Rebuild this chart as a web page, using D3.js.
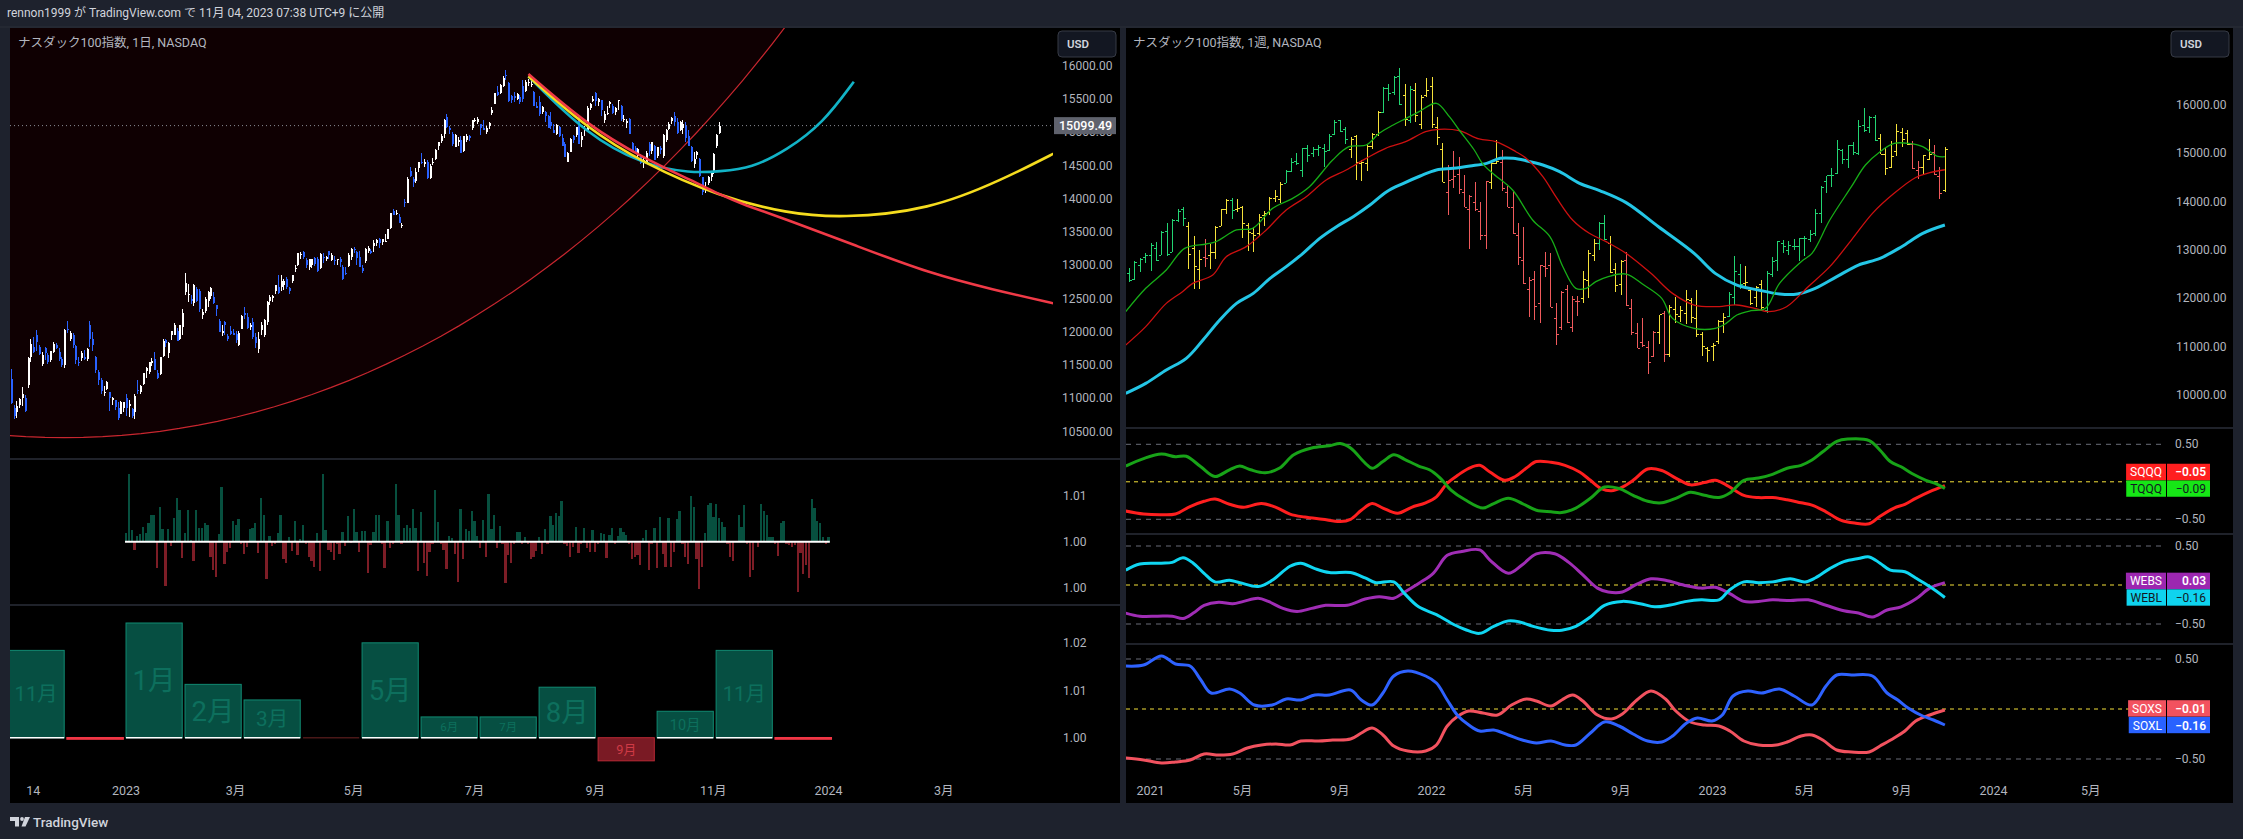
<!DOCTYPE html>
<meta charset="utf-8">
<script src="https://d3js.org/d3.v7.min.js"></script>
<style>
  body { margin: 0; background: #1e222d; }
  svg { display: block; }
</style>
<svg id="chart" width="2243" height="839"></svg>
<script>
// ---------------- left chart: NDX daily (bar 0 = 2022-11-01) ----------------
const headerText = "rennon1999 が TradingView.com で 11月 04, 2023 07:38 UTC+9 に公開";
const leftTitle = "ナスダック100指数, 1日, NASDAQ";
const rightTitle = "ナスダック100指数, 1週, NASDAQ";

// [open, high, low, close]
const dailyOHLC = [
  [11480,11520,11270,11300],[11290,11440,10920,10926],[10850,10900,10690,10730],[10800,10960,10700,10880],
  [10900,11000,10850,10990],[11000,11170,10890,11060],[11000,11050,10800,10810],[11200,11620,11150,11610],
  [11620,11900,11550,11820],[11770,11920,11680,11700],[11960,12030,11720,11850],[11780,11800,11650,11670],
  [11520,11700,11480,11660],[11760,11780,11580,11680],[11650,11680,11520,11550],[11570,11720,11540,11710],
  [11700,11850,11680,11820],[11800,11830,11740,11760],[11700,11760,11560,11590],[11590,11620,11470,11500],
  [11500,12040,11460,12030],[12050,12160,11980,12030],[11900,12020,11860,11990],[11950,11980,11760,11800],
  [11790,11800,11510,11570],[11540,11620,11480,11530],[11610,11720,11560,11690],[11630,11730,11580,11600],
  [11600,11760,11560,11750],[12100,12170,11780,11900],[11900,12000,11720,11810],[11620,11640,11380,11420],
  [11390,11430,11200,11270],[11270,11300,11060,11110],[11090,11180,11030,11100],[11140,11260,11120,11240],
  [11090,11100,10810,11000],[10980,11020,10900,11010],[10970,10980,10820,10870],[10860,10950,10680,10700],
  [10770,10960,10760,10940],[10860,10950,10800,10940],[11010,11060,10740,10860],[10880,10980,10720,10910],
  [10840,10850,10700,10740],[10800,11070,10690,11040],[11120,11270,11070,11110],[11100,11200,11070,11180],
  [11220,11380,11200,11380],[11410,11470,11310,11460],[11390,11550,11370,11540],[11530,11610,11480,11560],
  [11600,11700,11420,11430],[11380,11430,11290,11310],[11370,11630,11350,11620],[11640,11890,11620,11860],
  [11880,11900,11770,11840],[11680,11850,11610,11840],[11950,12020,11880,12010],[11960,12140,11950,12100],
  [12020,12060,11860,11870],[11890,12100,11880,12100],[12080,12350,11950,12290],[12600,12880,12560,12740],
  [12550,12720,12450,12570],[12500,12560,12420,12460],[12430,12720,12390,12700],[12650,12670,12450,12470],
  [12620,12640,12300,12340],[12260,12340,12200,12300],[12320,12520,12280,12500],[12460,12620,12380,12600],
  [12540,12670,12500,12660],[12530,12600,12420,12440],[12400,12410,12240,12340],[12170,12200,12000,12000],
  [11990,12110,11940,12020],[12150,12170,11960,12100],[11940,11970,11860,11900],[12020,12090,11950,11970],
  [11990,12050,11950,11960],[11970,12010,11830,11880],[11800,12020,11790,11990],[12050,12250,12040,12240],
  [12290,12380,12200,12250],[12230,12290,12040,12060],[12070,12130,12030,12110],[12150,12210,11900,11930],
  [11920,11980,11760,11830],[11750,12000,11690,11890],[12030,12150,11960,12110],[11950,12200,11930,12180],
  [12150,12470,12100,12450],[12470,12560,12410,12520],[12510,12560,12450,12540],[12620,12700,12570,12700],
  [12680,12860,12570,12590],[12670,12860,12620,12760],[12700,12800,12630,12770],[12800,12820,12650,12680],
  [12660,12670,12570,12620],[12760,12850,12740,12850],[12950,13000,12900,12960],[13000,13190,12990,13180],
  [13150,13200,13090,13170],[13200,13210,13090,13130],[13080,13110,12960,13010],[12980,13100,12930,13090],
  [13000,13090,12960,13090],[13110,13120,12990,13020],[13090,13130,12900,12910],[12960,13180,12950,13170],
  [13130,13180,13030,13110],[13090,13140,13060,13130],[13210,13220,13100,13150],[13080,13190,13070,13160],
  [13080,13140,13010,13060],[13080,13100,13010,13090],[13090,13120,12980,13050],[12980,13000,12780,12790],
  [12890,12970,12850,12880],[12990,13180,12970,13160],[13130,13260,13080,13250],[13240,13280,13180,13230],
  [13200,13210,13000,13110],[13120,13210,12970,12980],[12960,13010,12880,12920],[13060,13260,13040,13240],
  [13220,13290,13180,13260],[13210,13240,13170,13180],[13290,13380,13200,13340],[13330,13400,13290,13380],
  [13400,13410,13260,13340],[13350,13400,13300,13390],[13360,13470,13350,13370],[13400,13540,13390,13540],
  [13560,13790,13550,13780],[13810,13840,13750,13760],[13770,13830,13760,13790],[13730,13770,13630,13640],
  [13590,13630,13560,13600],[13950,13990,13870,13940],[13940,14320,13930,14300],[14420,14480,14320,14350],
  [14290,14330,14170,14250],[14270,14470,14230,14410],[14460,14560,14410,14550],[14560,14690,14520,14550],
  [14530,14600,14480,14560],[14560,14580,14300,14310],[14310,14520,14290,14490],[14540,14620,14510,14550],
  [14600,14750,14580,14740],[14800,14860,14740,14850],[14870,14970,14840,14950],[14970,15200,14920,15180],
  [15230,15280,15070,15080],[15070,15100,14970,15030],[14980,15000,14790,14830],[14780,14970,14780,14960],
  [14850,14930,14800,14890],[14880,14950,14690,14690],[14720,14940,14700,14940],[14880,14980,14850,14950],
  [14950,14960,14870,14920],[15060,15190,15030,15180],[15180,15220,15150,15190],[15160,15230,15120,15200],
  [15120,15130,14960,15060],[15060,15180,15030,15030],[15010,15090,14970,15070],[15100,15150,15050,15140],
  [15290,15380,15260,15330],[15430,15590,15420,15590],[15600,15690,15540,15560],[15590,15730,15580,15710],
  [15700,15850,15680,15810],[15860,15930,15780,15840],[15740,15750,15460,15470],[15540,15560,15440,15490],
  [15550,15600,15460,15510],[15500,15590,15490,15580],[15530,15560,15430,15460],[15690,15780,15460,15500],
  [15620,15780,15610,15760],[15740,15800,15700,15760],[15720,15790,15680,15730],[15600,15620,15390,15400],
  [15400,15460,15360,15370],[15450,15540,15250,15270],[15310,15400,15270,15380],[15300,15320,15160,15240],
  [15250,15260,15060,15060],[15160,15300,15050,15100],[15040,15120,14990,14990],[14980,15120,14960,15110],
  [15080,15090,14930,14940],[14910,14980,14790,14790],[14830,14850,14630,14630],[14560,14700,14560,14690],
  [14710,14910,14700,14900],[14950,14960,14840,14880],[14960,15080,14930,15080],[15230,15260,14820,14820],
  [14880,15000,14780,14940],[15040,15100,14950,15050],[15040,15390,15030,15370],[15360,15440,15340,15430],
  [15470,15550,15450,15500],[15590,15610,15400,15470],[15450,15520,15400,15500],[15480,15490,15250,15330],
  [15180,15320,15140,15280],[15270,15390,15260,15290],[15430,15470,15360,15460],[15400,15420,15270,15290],
  [15300,15380,15260,15360],[15470,15490,15340,15480],[15400,15410,15170,15200],[15190,15260,15150,15200],
  [15140,15200,15060,15170],[15200,15210,14980,14980],[14840,14860,14700,14700],[14770,14800,14680,14700],
  [14650,14760,14620,14750],[14650,14680,14530,14540],[14550,14650,14470,14580],[14550,14720,14540,14690],
  [14830,14850,14650,14720],[14720,14860,14680,14850],[14800,14810,14580,14590],[14640,14780,14620,14780],
  [14770,14800,14670,14740],[14640,14970,14610,14960],[14880,15050,14860,15040],[15050,15160,15030,15120],
  [15170,15230,15130,15210],[15250,15300,15100,15150],[15160,15210,14970,14990],[15030,15170,15020,15150],
  [15070,15180,14980,15120],[15090,15160,14860,14920],[14950,15030,14790,14800],[14780,14800,14560,14570],
  [14530,14700,14470,14600],[14660,14720,14600,14710],[14600,14620,14330,14340],[14320,14330,14050,14100],
  [14130,14250,14090,14180],[14240,14350,14200,14330],[14320,14420,14260,14410],[14420,14690,14380,14670],
  [14790,14970,14760,14960],[14990,15150,14980,15099.49]
];
const lastPrice = 15099.49;
const leftPriceTicks = [16000,15500,15000,14500,14000,13500,13000,12500,12000,11500,11000,10500];
// [bar index, label]
const dailyTicks = [[9,"14"],[42,"2023"],[81,"3月"],[123,"5月"],[166,"7月"],[209,"9月"],[251,"11月"],[292,"2024"],[333,"3月"]];

// big ellipse drawing (bars / price units)
const arcCenterBar = 20, arcCenterPrice = 35710, arcRadiusBars = 392, arcRadiusPrice = 25300;
// curve drawings [bar, price]
const redCurve = [[185.2,15874],[206,15113],[226,14613],[244,14263],[253.4,14062],[262,13907],[277,13690],[302.7,13280],[328,12880],[350,12640],[374,12410]];
const yellowCurve = [[185.2,15840],[206,15064],[226,14538],[253.4,14030],[277.3,13782],[296.4,13707],[328,13832],[353.7,14282],[374,14720]];
const cyanCurve = [[185.2,15840],[206,14963],[226,14512],[243,14385],[253.4,14413],[264.5,14458],[277.2,14733],[290,15134],[301,15760]];

// daily ratio histogram, 1e-4 deviations from 1.00, starting at bar 42
const histStart = 42;
const histBp = [
  18,147,25,-17,12,17,31,20,40,57, 57,-57,75,28,-96,28,-9,52,96,69,
  -35,20,69,3,-42,69,29,30,40,36, -33,-62,-76,16,120,-49,-22,-14,45,36,
  49,-4,-26,-11,28,29,41,-24,96,59, -82,13,-9,-6,20,57,-38,-47,10,-20,
  46,-29,5,36,-4,-33,-41,-54,19,-64, 148,25,-18,-23,-40,-6,-27,22,-9,55,
  -2,72,22,-22,23,23,-67,-7,22,59, 59,-5,-58,45,-14,-6,125,59,-6,30,
  36,30,72,30,-64,64,-47,-74,-22,-6, 112,42,-4,-18,-60,12,9,-27,-87,71,
  -38,28,23,67,46,12,-13,48,-33,103, 28,59,-13,34,-6,-89,-28,-47,-4,22,
  22,-4,11,-4,-38,-33,-20,10,-26,28, -4,56,36,62,56,89,-6,-9,-33,-11,
  32,-25,-4,30,-14,-23,25,-23,-6,20, 17,-35,14,29,-4,13,29,22,14,-6,
  -38,-33,-28,-51,9,25,-62,-6,30,-58, 54,-26,-55,51,-55,-22,49,67,-4,-33,
  -48,100,75,-38,-103,-54,20,80,85,54, 81,51,43,33,-6,-33,-43,2,58,33,
  80,-5,-76,-62,1,-11,81,67,57,10, 10,-4,-30,40,45,-4,-7,-11,-7,-109,
  -25,-71,-51,-78,93,74,45,40,11,-6, 11
];
const histTicks = [1.01, 1.00, 0.99];
const histTickLabels = ["1.01", "1.00", "1.00"];

// monthly boxes
const monthLabels = ["11月","12月","1月","2月","3月","4月","5月","6月","7月","8月","9月","10月","11月","12月"];
const monthStartBar = [0,21,42,63,84,105,126,147,168,189,210,231,252,273];
const monthRatio = [1.0185,0.9997,1.0243,1.0113,1.0080,1.0000,1.0201,1.0044,1.0044,1.0107,0.9951,1.0056,1.0185,0.9997];
const monthTicks = [1.02, 1.01, 1.00];

// ---------------- right chart: NDX weekly (n = weeks since 2021-01-04) ----------------
const weekStart = -4;
const weeklyOHLC = [
  [12530,12620,12330,12378],[12400,12770,12380,12755],[12700,12840,12540,12804],[12850,12930,12740,12888],
  [12900,13140,12570,13105],[13050,13160,12780,12803],[12900,13400,12890,13366],[13400,13550,12880,12925],
  [12960,13640,12950,13612],[13620,13840,13580,13803],[13840,13880,13500,13662],[13500,13580,12600,12909],
  [13040,13300,12200,12668],[12600,13010,12200,12820],[12850,13220,12650,12843],[12900,13120,12600,12963],
  [12960,13490,12820,13480],[13500,13850,13500,13846],[13850,14060,13740,14041],[14040,14080,13650,13820],
  [13850,14060,13780,13861],[13900,13920,13250,13567],[13510,13560,12970,13374],[13350,13470,12950,13300],
  [13350,13750,13300,13686],[13730,13800,13490,13774],[13780,14090,13730,14070],[14080,14250,14000,14125],
  [14050,14400,13970,14375],[14390,14650,14380,14640],[14640,14910,14610,14829],[14840,15000,14750,14790],
  [14650,15120,14510,15112],[15120,15180,14820,14959],[15000,15140,14920,15093],[15100,15170,14950,15132],
  [15120,15190,14720,15048],[15070,15390,15050,15360],[15390,15700,15380,15653],[15680,15700,15440,15463],
  [15500,15550,15200,15302],[15100,15340,14900,15293],[15350,15380,14450,14828],[14800,14870,14420,14830],
  [14800,15180,14640,15150],[15150,15420,15080,15390],[15400,15870,15360,15850],[15860,16380,15830,16345],
  [16350,16430,16080,16254],[16260,16600,16200,16573],[16600,16770,16000,16028],[16200,16430,15560,15713],
  [15700,16400,15620,16336],[16300,16460,15640,15788],[15600,16200,15500,16170],[16200,16560,16160,16320],
  [16400,16580,15530,15601],[15550,15750,15170,15345],[15100,15220,14400,14406],[14200,14750,13720,14440],
  [14470,15050,14280,14525],[14570,14920,14160,14269],[14200,14560,13880,13899],[13850,14140,13020,14127],
  [14000,14400,13800,13838],[13800,13990,13210,13301],[13300,14430,13020,14421],[14400,14850,14260,14810],
  [14800,15270,14770,14838],[14820,15070,14230,14289],[14200,14330,13880,13898],[13880,14230,13340,13357],
  [13300,13550,12700,12855],[12800,13470,12300,12317],[12200,12450,11620,12387],[12400,12570,11560,11835],
  [11900,12700,11500,12681],[12660,12950,12450,12627],[12700,12930,11820,11830],[11600,11900,11040,11258],
  [11400,12160,11350,12130],[12200,12280,11500,11503],[11400,12050,11300,11980],[11950,12040,11640,11950],
  [12000,12560,11900,12397],[12380,12990,12000,12947],[12900,13220,12780,13147],[13150,13570,13000,13561],
  [13550,13720,13200,13227],[13150,13300,12520,12542],[12600,12740,12140,12283],[12300,12800,12060,12768],
  [12800,12950,11850,11861],[11800,11980,11250,11311],[11280,11500,10970,10971],[11100,11590,10990,11044],
  [11000,11120,10440,10693],[10800,11330,10790,11311],[11300,11650,11060,11668],[11700,11730,10680,10844],
  [10850,11860,10790,11823],[11780,12030,11480,11677],[11640,11850,11520,11756],[11700,12170,11460,11991],
  [11960,12000,11480,11605],[11600,12170,11190,11271],[11270,11300,10810,11016],[10970,10990,10680,10940],
  [11010,11070,10700,11040],[11120,11550,11060,11541],[11530,11700,11280,11620],[11640,12140,11610,12100],
  [12020,12880,11860,12573],[12500,12720,12200,12305],[12320,12670,12240,12339],[12170,12200,11860,11900],
  [12020,12250,11830,12244],[12290,12380,11760,11830],[11750,12560,11690,12520],[12510,12860,12450,12770],
  [12800,13190,12570,13182],[13150,13210,12930,13090],[13000,13180,12900,13110],[13090,13220,13010,13090],
  [13090,13250,12780,13250],[13240,13280,12880,13240],[13220,13410,13170,13340],[13350,13840,13300,13760],
  [13770,14320,13560,14300],[14420,14540,14170,14550],[14560,14690,14300,14550],[14600,15280,14580,15080],
  [15070,15100,14780,14890],[14880,15180,14690,15180],[15180,15230,14960,15030],[15010,15690,14970,15560],
  [15590,15930,15440,15490],[15550,15780,15430,15760],[15760,15800,15250,15270],[15310,15400,14990,14990],
  [14980,15120,14560,14690],[14710,15260,14700,14940],[15040,15610,14950,15470],[15450,15520,15140,15290],
  [15430,15490,15170,15200],[15190,15260,14680,14700],[14650,14850,14470,14720],[14720,14960,14580,14960],
  [14880,15300,14860,14990],[15030,15180,14560,14570],[14530,14720,14050,14180],[14240,15140,14200,15100]
];
// bar colour state runs: g = trend up, y = neutral, r = trend down
const weeklyColorRuns = [["g",11],["y",3],["r",1],["y",4],["g",1],["y",9],["g",12],["y",6],["g",4],["y",1],["g",1],
  ["y",6],["r",8],["y",2],["r",15],["y",3],["g",2],["y",3],["r",6],["y",1],["r",1],["y",11],["g",3],["y",4],
  ["g",21],["y",6],["r",2],["y",2],["r",2],["y",1]];
// moving averages [n, value]
const maFast = [[-4.6,11724],[-0.9,12207],[2.9,12586],[6.3,13034],[10.3,13124],[12.1,13172],[15.9,13414],[18.9,13448],
  [22.6,13862],[26.3,14069],[29.4,14310],[33.7,14862],[36.7,15138],[39.9,15172],[42.3,15414],[44.9,15586],[47.3,15724],
  [49.7,15862],[52.9,16035],[55.3,15759],[57.1,15483],[59.9,15069],[61.4,14793],[63.3,14586],[67,14241],[70.7,13621],
  [73.9,13276],[76.3,12655],[78.7,12207],[80.6,12207],[82.4,12345],[84.7,12450],[88,12503],[91.3,12275],[94.6,12000],
  [96.6,11585],[100.6,11379],[104.5,11379],[106.5,11482],[108.5,11655],[111.1,11744],[113.8,11792],[116.4,12310],
  [120.4,12758],[122.4,12930],[125.7,13620],[129.7,14310],[132.3,14758],[135,15034],[137.6,15206],[140.3,15206],
  [142.9,15137],[145.5,14944],[147,14930]];
const maMid = [[-4.6,11034],[-0.9,11414],[2.9,11896],[5.9,12138],[7.8,12310],[11.5,12483],[14,12862],[17.7,13069],
  [21.4,13414],[25.1,13828],[28.8,14103],[32.5,14448],[36.2,14655],[39.9,14897],[43.5,15104],[47.2,15241],[50.9,15448],
  [53.4,15497],[57.1,15469],[60.8,15297],[63.9,15241],[67.6,15034],[69.5,14897],[72.6,14517],[75,14103],[78.1,13621],
  [81.2,13345],[84.3,13172],[88,12930],[92.6,12517],[96.6,12103],[100.6,11862],[104.5,11827],[108.5,11862],[111.8,11792],
  [114.4,11723],[117.7,11827],[121.7,12241],[125.7,12655],[129.7,13206],[133.6,13758],[137.6,14172],[141.6,14500],
  [144.2,14600],[147,14660]];
const maSlow = [[-4.6,10034],[-0.9,10241],[2.9,10517],[6.6,10758],[9.7,11138],[12.8,11552],[15.9,11896],[19,12103],
  [22.1,12414],[25.1,12655],[28.2,12931],[31.3,13241],[34.4,13483],[37.5,13690],[40.6,13931],[43.7,14207],[46.8,14379],
  [49.9,14531],[52.9,14655],[56,14690],[59.1,14738],[62.2,14793],[64.7,14897],[67.1,14897],[69.5,14848],[72.6,14759],
  [75.7,14621],[79.4,14380],[83.1,14230],[88,13980],[94,13480],[100.6,12930],[104.5,12517],[108.5,12275],[112.5,12172],
  [116.4,12089],[119.7,12089],[123,12206],[127,12448],[131,12689],[135,12827],[139,13068],[142.9,13344],[147,13517]];
const rightPriceTicks = [16000,15000,14000,13000,12000,11000,10000];
const weeklyTicks = [[0,"2021"],[17,"5月"],[35,"9月"],[52,"2022"],[69,"5月"],[87,"9月"],[104,"2023"],[121,"5月"],[139,"9月"],[156,"2024"],[174,"5月"]];

// correlation panes [n, value]
const corrTQQQ = [[-4.6,.21],[-1.3,.31],[2,.37],[4.6,.335],[6.6,.34],[9.3,.2],[11.9,.07],[14.6,.16],[16.5,.21],[18.5,.16],
  [21.2,.12],[23.8,.18],[26.5,.36],[29.8,.45],[33.1,.48],[35.1,.51],[37,.45],[39.7,.25],[41,.18],[43,.27],[45,.36],[47,.3],
  [49.6,.21],[51.6,.16],[53.6,.05],[55.6,-.11],[58.2,-.24],[61.5,-.35],[63.5,-.29],[66.2,-.22],[68.8,-.29],[71.4,-.38],
  [74.1,-.4],[76.1,-.41],[78.7,-.35],[81.4,-.22],[84,-.07],[86.7,-.09],[89.3,-.18],[92,-.26],[94.6,-.28],[97.2,-.22],
  [99.9,-.14],[102.5,-.18],[105.2,-.21],[107.2,-.15],[109.8,.02],[112.5,.05],[115.1,.1],[117.8,.18],[120.4,.22],[122.4,.29],
  [124.4,.4],[127,.54],[129,.57],[133,.55],[135,.42],[136.9,.27],[138.9,.2],[140.9,.11],[143.5,.02],[145.5,-.03],[147,-.09]];
const corrSQQQ = [[-4.6,-.39],[-1.3,-.43],[2,-.44],[4.6,-.43],[7.3,-.33],[9.9,-.26],[11.9,-.23],[14.6,-.3],[17.2,-.34],
  [20.5,-.29],[23.2,-.34],[25.8,-.43],[28.5,-.47],[31.8,-.5],[35.1,-.53],[37,-.5],[39,-.38],[41,-.29],[43,-.35],[45.7,-.42],
  [48.3,-.34],[50.9,-.28],[52.9,-.2],[54.9,-.02],[56.9,.09],[58.9,.18],[60.9,.22],[62.8,.13],[65.5,.02],[67.5,.07],[69.5,.18],
  [71.4,.27],[74.1,.26],[76.7,.22],[79.4,.13],[81.4,.02],[83.4,-.09],[85.3,-.12],[87.3,-.07],[89.3,.02],[92,.17],[94.6,.15],
  [97.2,.05],[99.9,-.04],[102.5,-.01],[104.5,.02],[106.5,-.04],[109.8,-.18],[112.5,-.21],[115.1,-.21],[117.8,-.24],
  [120.4,-.28],[122.4,-.31],[125,-.4],[127.7,-.51],[130.3,-.55],[133,-.56],[135,-.46],[137.6,-.35],[139.6,-.3],[141.6,-.22],
  [144.2,-.13],[147,-.05]];
const corrWEBL = [[-4.6,.19],[-2,.27],[2,.28],[4,.29],[6,.35],[7.9,.28],[9.9,.15],[11.9,.04],[14.6,.06],[16.5,.03],[19.9,-.02],
  [22.5,.06],[25.8,.24],[27.8,.28],[30.4,.21],[33.1,.16],[37,.16],[39.7,.09],[41.7,.03],[45,.04],[47,-.11],[49.6,-.28],
  [52.9,-.38],[56.2,-.51],[58.2,-.57],[60.9,-.62],[63.5,-.53],[66.2,-.46],[68.1,-.47],[70.8,-.53],[74.1,-.58],[76.1,-.58],
  [78.7,-.53],[81.4,-.41],[84,-.26],[87.3,-.21],[90.6,-.24],[93.3,-.28],[95.9,-.26],[99.2,-.21],[101.9,-.19],[105.2,-.19],
  [107.2,-.06],[109.8,.04],[112.5,.03],[115.1,.04],[118.4,.08],[121.1,.04],[123,.09],[125.7,.21],[128.3,.3],[131,.34],
  [133,.36],[135,.28],[136.9,.19],[139.6,.17],[141.6,.09],[144.2,-.02],[147,-.16]];
const corrWEBS = [[-4.6,-.36],[-2,-.4],[1.3,-.4],[4,-.4],[6,-.43],[7.9,-.36],[9.9,-.26],[12.6,-.22],[15.2,-.24],[17.2,-.21],
  [19.9,-.17],[21.8,-.21],[24.5,-.3],[27.1,-.34],[29.8,-.3],[32.4,-.26],[36.4,-.26],[39.7,-.18],[42.3,-.15],[45,-.17],[47,-.09],
  [49.6,.02],[52.3,.15],[54.9,.38],[57.6,.43],[60.9,.45],[62.8,.32],[66.2,.15],[68.8,.26],[71.4,.4],[74.8,.4],[77.4,.29],
  [80,.13],[82.7,-.04],[84.7,-.09],[87.3,-.09],[90,.01],[92.6,.08],[95.3,.06],[99.2,-.01],[101.9,-.04],[104.5,-.03],
  [107.2,-.11],[109.8,-.21],[112.5,-.21],[115.1,-.19],[118.4,-.2],[121.7,-.19],[125,-.26],[128.3,-.33],[131,-.36],
  [133.6,-.41],[136.3,-.32],[138.9,-.28],[141.6,-.18],[144.2,-.04],[147,.03]];
const corrSOXL = [[-4.6,.43],[-1.3,.44],[2,.53],[4.6,.45],[7.3,.43],[9.3,.29],[11.2,.16],[14.6,.2],[16.5,.16],[19.2,.04],
  [22.5,.04],[25.1,.1],[27.8,.09],[30.4,.14],[33.1,.14],[37,.19],[39,.09],[41,.04],[43,.16],[45,.33],[47.6,.38],[50.9,.33],
  [52.9,.26],[54.9,.09],[56.9,-.07],[58.9,-.16],[60.9,-.22],[63.5,-.21],[66.2,-.26],[68.8,-.31],[71.4,-.34],[74.1,-.32],
  [76.7,-.36],[78.7,-.36],[81.4,-.24],[84,-.13],[86.7,-.17],[89.3,-.25],[92,-.32],[94.6,-.33],[96.6,-.27],[99.2,-.14],
  [101.2,-.09],[103.9,-.12],[105.8,-.06],[107.8,.13],[110.5,.18],[113.1,.16],[116.4,.2],[119.1,.13],[122.4,.04],[125,.23],
  [127,.34],[129.7,.34],[133.6,.33],[136.3,.16],[138.3,.09],[140.2,.01],[142.9,-.07],[144.9,-.11],[147,-.16]];
const corrSOXS = [[-4.6,-.49],[-1.3,-.51],[2,-.54],[4.6,-.53],[7.3,-.51],[9.9,-.45],[12.6,-.46],[15.2,-.45],[17.9,-.39],
  [20.5,-.36],[23.2,-.35],[25.8,-.36],[27.8,-.32],[31.1,-.32],[33.7,-.31],[37,-.3],[39,-.24],[41,-.19],[43,-.26],[45,-.37],
  [47.6,-.42],[50.9,-.42],[52.9,-.36],[54.9,-.17],[56.9,-.07],[58.9,-.02],[61.5,-.04],[64.2,-.06],[66.8,.04],[69.5,.1],
  [71.4,.08],[74.1,.03],[76.1,.09],[78.1,.14],[80,.08],[82.7,-.06],[85.3,-.1],[87.3,-.05],[90,.09],[92.6,.18],[95.3,.1],
  [97.2,-.02],[99.9,-.13],[102.5,-.16],[105.2,-.17],[107.2,-.22],[109.8,-.32],[112.5,-.36],[115.8,-.36],[117.8,-.33],
  [120.4,-.27],[122.4,-.26],[124.4,-.31],[127,-.41],[129.7,-.43],[133,-.43],[135,-.37],[137.6,-.29],[139.6,-.22],
  [141.6,-.12],[144.2,-.06],[147,-.01]];
const corrTicks = [0.5, -0.5];

// ---------------- drawing ----------------
const svg = d3.select("#chart");
const FONT = "Roboto, 'Noto Sans CJK JP', sans-serif";
const AX = "#b2b5be";
const SEP = "#2a2e39";
const fmt2 = d3.format(".2f");

svg.append("rect").attr("width", 2243).attr("height", 839).attr("fill", "#1e222d");
svg.append("rect").attr("x", 10).attr("y", 28).attr("width", 1110).attr("height", 775).attr("fill", "#000");
svg.append("rect").attr("x", 1126).attr("y", 28).attr("width", 1107).attr("height", 775).attr("fill", "#000");
svg.append("line").attr("x1", 0).attr("x2", 2243).attr("y1", 27).attr("y2", 27).attr("stroke", SEP);

const defs = svg.append("defs");
function clip(id, x, y, w, h) {
  defs.append("clipPath").attr("id", id).append("rect").attr("x", x).attr("y", y).attr("width", w).attr("height", h);
  return "url(#" + id + ")";
}
function text(g, x, y, s, size, color, anchor, weight) {
  return g.append("text").attr("x", x).attr("y", y).text(s)
    .attr("font-family", FONT).attr("font-size", size).attr("fill", color)
    .attr("text-anchor", anchor || "start").attr("font-weight", weight || 400);
}
function usdBox(x) {
  svg.append("rect").attr("x", x).attr("y", 31).attr("width", 58).attr("height", 26).attr("rx", 4)
    .attr("fill", "#131722").attr("stroke", "#363a45");
  text(svg, x + 9, 48, "USD", 11.5, "#d1d4dc", "start", 600);
}

text(svg, 7, 17, headerText, 12, "#d1d4dc");

// ===== left main pane =====
const xL = d3.scaleLinear().domain([0, 333]).range([8, 8 + 333 * 2.81]);
const yL = d3.scaleLinear().domain([10500, 16000]).range([431.7, 65.7]);
const gL = svg.append("g").attr("clip-path", clip("cL", 10, 28, 1043, 430));

const ellipse = d3.range(0, 361).map(a => {
  const t = a * Math.PI / 180;
  return [xL(arcCenterBar + arcRadiusBars * Math.cos(t)), yL(arcCenterPrice + arcRadiusPrice * Math.sin(t))];
});
gL.append("path").attr("d", d3.line()(ellipse) + "Z")
  .attr("fill", "#0f0002").attr("stroke", "#c8262f").attr("stroke-width", 1.2);

gL.append("line").attr("x1", 10).attr("x2", 1053)
  .attr("y1", yL(lastPrice)).attr("y2", yL(lastPrice))
  .attr("stroke", "#8a8d96").attr("stroke-dasharray", "1,3");

const candles = gL.append("g").attr("shape-rendering", "crispEdges")
  .selectAll("g").data(dailyOHLC).join("g");
candles.append("line")
  .attr("x1", (d, i) => Math.round(xL(i)) + 0.5).attr("x2", (d, i) => Math.round(xL(i)) + 0.5)
  .attr("y1", d => yL(d[1])).attr("y2", d => yL(d[2]))
  .attr("stroke", d => d[3] >= d[0] ? "#ffffff" : "#2962ff");
candles.append("rect")
  .attr("x", (d, i) => Math.round(xL(i)) - 0.5).attr("width", 2)
  .attr("y", d => yL(Math.max(d[0], d[3])))
  .attr("height", d => Math.max(1, yL(Math.min(d[0], d[3])) - yL(Math.max(d[0], d[3]))))
  .attr("fill", d => d[3] >= d[0] ? "#ffffff" : "#2962ff");

const curveLine = d3.line().x(d => xL(d[0])).y(d => yL(d[1])).curve(d3.curveBasis);
[[cyanCurve, "#12b3c6"], [yellowCurve, "#f5dc1e"], [redCurve, "#f03a47"]].forEach(([pts, col]) => {
  gL.append("path").attr("d", curveLine(pts)).attr("fill", "none").attr("stroke", col).attr("stroke-width", 2.6);
});

leftPriceTicks.forEach(t => text(svg, 1062, yL(t) + 4, fmt2(t), 12, AX));
svg.append("rect").attr("x", 1054).attr("y", yL(lastPrice) - 8.5).attr("width", 62).attr("height", 17)
  .attr("fill", "#5f626d");
text(svg, 1059, yL(lastPrice) + 4.5, fmt2(lastPrice), 12.5, "#ffffff", "start", 500);
text(svg, 18, 47, leftTitle, 12.5, AX);
usdBox(1058);

// ===== daily ratio histogram pane =====
const yH = d3.scaleLinear().domain([0.99, 1.01]).range([587.7, 495.7]);
const gH = svg.append("g").attr("clip-path", clip("cH", 10, 459, 1043, 146));
gH.append("g").attr("shape-rendering", "crispEdges").selectAll("rect").data(histBp).join("rect")
  .attr("x", (d, i) => xL(histStart + i) - 1.1).attr("width", 2.3)
  .attr("y", d => yH(Math.max(1, 1 + d / 10000)))
  .attr("height", d => Math.abs(yH(1 + d / 10000) - yH(1)))
  .attr("fill", d => d >= 0 ? "#07503f" : "#7d1d26");
gH.append("line").attr("x1", xL(histStart) - 1).attr("x2", xL(histStart + histBp.length - 1) + 1.3)
  .attr("y1", yH(1)).attr("y2", yH(1)).attr("stroke", "#ffffff").attr("stroke-width", 2);
histTicks.forEach((t, i) => text(svg, 1063, yH(t) + 4, histTickLabels[i], 12, AX));

// ===== monthly pane =====
const yM = d3.scaleLinear().domain([1.00, 1.02]).range([737.7, 643.3]);
const gM = svg.append("g").attr("clip-path", clip("cM", 10, 606, 1043, 172));
monthRatio.forEach((v, i) => {
  const x0 = xL(monthStartBar[i]), x1 = xL(monthStartBar[i] + 20);
  const top = yM(Math.max(v, 1)), bot = yM(Math.min(v, 1));
  const h = bot - top, w = x1 - x0;
  if (Math.abs(v - 1) < 0.0001) {
    gM.append("line").attr("x1", x0).attr("x2", x1).attr("y1", yM(1)).attr("y2", yM(1))
      .attr("stroke", "#4a1818").attr("stroke-width", 1.5);
    return;
  }
  const up = v > 1;
  gM.append("rect").attr("x", x0).attr("y", top).attr("width", w).attr("height", Math.max(h, 1))
    .attr("fill", up ? "#064f42" : "#7a1a24").attr("stroke", up ? "#118a72" : (h < 3 ? "#f23645" : "#b82a36"))
    .attr("stroke-width", up ? 1 : (h < 3 ? 1.4 : 1));
  if (up) {
    gM.append("line").attr("x1", x0).attr("x2", x1).attr("y1", yM(1)).attr("y2", yM(1))
      .attr("stroke", "#ffffff").attr("stroke-width", 1.6);
  }
  if (h > 8) {
    const s = monthLabels[i];
    const em = (s.length - 1) * 0.55 + 1; // digits ~0.55em, 月 1em
    const fs = Math.min(w * 0.76 / em, h * 0.55);
    text(gM, (x0 + x1) / 2, (top + bot) / 2 + fs * 0.36, s, fs, up ? "#0d6f5d" : "#d03a46", "middle");
  }
});
monthTicks.forEach(t => text(svg, 1063, yM(t) + 4, fmt2(t), 12, AX));

dailyTicks.forEach(([b, s]) => text(svg, xL(b), 795, s, 12.5, AX, "middle"));
[459, 605].forEach(y => svg.append("line").attr("x1", 10).attr("x2", 1120).attr("y1", y).attr("y2", y)
  .attr("stroke", SEP).attr("stroke-width", 1.5));

// ===== right main pane =====
const xR = d3.scaleLinear().domain([0, 156]).range([1150.6, 1993.5]);
const yR = d3.scaleLinear().domain([10000, 16000]).range([395, 105]);
const gR = svg.append("g").attr("clip-path", clip("cR", 1126, 28, 1039, 400));

const weeklyColor = weeklyColorRuns.flatMap(([c, k]) => Array(k).fill(c));
const barCol = { g: "#22d472", y: "#f5e13a", r: "#f05a5c" };
const wb = gR.append("g").attr("shape-rendering", "crispEdges").selectAll("g").data(weeklyOHLC).join("g")
  .attr("stroke", (d, i) => barCol[weeklyColor[i]]);
wb.append("line").attr("x1", (d, i) => Math.round(xR(weekStart + i)) + 0.5).attr("x2", (d, i) => Math.round(xR(weekStart + i)) + 0.5)
  .attr("y1", d => yR(d[1])).attr("y2", d => yR(d[2]));
wb.append("line").attr("x1", (d, i) => Math.round(xR(weekStart + i)) - 2).attr("x2", (d, i) => Math.round(xR(weekStart + i)))
  .attr("y1", d => Math.round(yR(d[0])) + 0.5).attr("y2", d => Math.round(yR(d[0])) + 0.5);
wb.append("line").attr("x1", (d, i) => Math.round(xR(weekStart + i)) + 1).attr("x2", (d, i) => Math.round(xR(weekStart + i)) + 3)
  .attr("y1", d => Math.round(yR(d[3])) + 0.5).attr("y2", d => Math.round(yR(d[3])) + 0.5);

const maLine = d3.line().x(d => xR(d[0])).y(d => yR(d[1])).curve(d3.curveCatmullRom);
gR.append("path").attr("d", maLine(maSlow)).attr("fill", "none").attr("stroke", "#24c6e6").attr("stroke-width", 3);
gR.append("path").attr("d", maLine(maMid)).attr("fill", "none").attr("stroke", "#cc1010").attr("stroke-width", 1.3);
gR.append("path").attr("d", maLine(maFast)).attr("fill", "none").attr("stroke", "#17ad17").attr("stroke-width", 1.3);

rightPriceTicks.forEach(t => text(svg, 2176, yR(t) + 4, fmt2(t), 12, AX));
text(svg, 1133, 47, rightTitle, 12.5, AX);
usdBox(2171);

// ===== correlation panes =====
const corrPanes = [
  { top: 429, bottom: 534, lo: 519.3, hi: 444.3, series: [
    { name: "SQQQ", data: corrSQQQ, color: "#ff1f1f", box: "#ff1f1f", ink: "#ffffff" },
    { name: "TQQQ", data: corrTQQQ, color: "#18a318", box: "#16e616", ink: "#131722" } ] },
  { top: 535, bottom: 644, lo: 624, hi: 546, series: [
    { name: "WEBS", data: corrWEBS, color: "#a02db5", box: "#9c27b0", ink: "#ffffff" },
    { name: "WEBL", data: corrWEBL, color: "#10d6f2", box: "#0fd3ee", ink: "#131722" } ] },
  { top: 645, bottom: 780, lo: 759, hi: 659, series: [
    { name: "SOXS", data: corrSOXS, color: "#f2525f", box: "#f2525f", ink: "#ffffff" },
    { name: "SOXL", data: corrSOXL, color: "#2e62ff", box: "#2962ff", ink: "#ffffff" } ] }
];
corrPanes.forEach((p, k) => {
  const y = d3.scaleLinear().domain([-0.5, 0.5]).range([p.lo, p.hi]);
  const g = svg.append("g").attr("clip-path", clip("cC" + k, 1126, p.top, 1039, p.bottom - p.top));
  corrTicks.forEach(t => g.append("line").attr("x1", 1126).attr("x2", 2164).attr("y1", y(t)).attr("y2", y(t))
    .attr("stroke", "#6a6d78").attr("stroke-dasharray", "5,5"));
  g.append("line").attr("x1", 1126).attr("x2", 2164).attr("y1", y(0)).attr("y2", y(0))
    .attr("stroke", "#f5e13a").attr("stroke-dasharray", "4,4");
  const line = d3.line().x(d => xR(d[0])).y(d => y(d[1])).curve(d3.curveCatmullRom);
  p.series.forEach(s => g.append("path").attr("d", line(s.data)).attr("fill", "none")
    .attr("stroke", s.color).attr("stroke-width", 3).attr("stroke-linejoin", "round"));
  corrTicks.forEach(t => text(svg, 2175, y(t) + 4, fmt2(t), 12, AX));

  // value labels, stacked when they would overlap
  const labs = p.series.map(s => ({ s, v: s.data[s.data.length - 1][1] }))
    .map(o => ({ ...o, y: y(o.v) })).sort((a, b) => b.y - a.y);
  for (let i = 1; i < labs.length; i++) labs[i].y = Math.min(labs[i].y, labs[i - 1].y - 16.6);
  labs.forEach(o => {
    const lg = svg.append("g");
    const nameT = text(lg, 2162, o.y + 4.5, o.s.name, 12, o.s.ink, "end");
    const wName = nameT.node().getComputedTextLength();
    lg.insert("rect", "text").attr("x", 2166 - wName - 8).attr("y", o.y - 8.2).attr("width", wName + 8).attr("height", 16.4)
      .attr("fill", o.s.box);
    lg.insert("rect", "text").attr("x", 2167).attr("y", o.y - 8.2).attr("width", 43).attr("height", 16.4)
      .attr("fill", o.s.box);
    text(lg, 2206, o.y + 4.5, fmt2(o.v), 12, o.s.ink, "end", o.s.ink === "#ffffff" ? 600 : 400);
  });
});

weeklyTicks.forEach(([n, s]) => text(svg, xR(n), 795, s, 12.5, AX, "middle"));
[428, 534, 644].forEach(y => svg.append("line").attr("x1", 1126).attr("x2", 2233).attr("y1", y).attr("y2", y)
  .attr("stroke", SEP).attr("stroke-width", 1.5));

// ===== footer logo =====
const logo = svg.append("g").attr("fill", "#d1d4dc");
logo.append("path").attr("d", "M10 817h9v9.5h-4v-5.5h-5z");
logo.append("circle").attr("cx", 22).attr("cy", 819).attr("r", 1.9);
logo.append("path").attr("d", "M25 817h5l-4.5 9.5h-4z");
text(svg, 33, 827, "TradingView", 13.5, "#d1d4dc", "start", 500);
</script>
